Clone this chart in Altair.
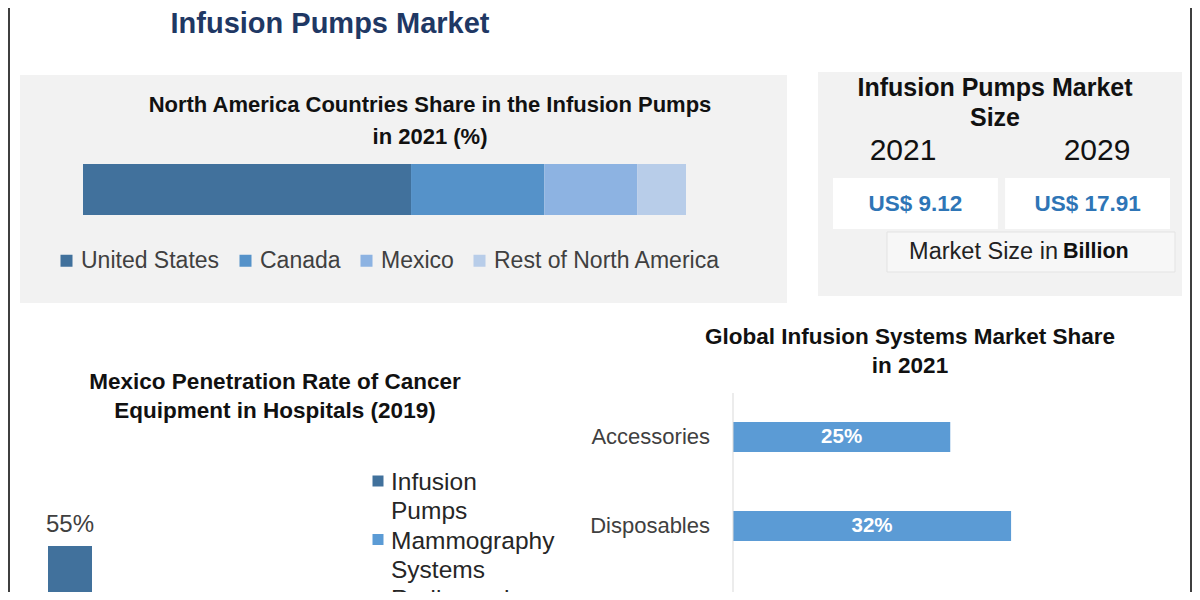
import altair as alt
import pandas as pd

W, H = 1184, 584
FONT = "Liberation Sans, Arial, sans-serif"

# ---------------- data ----------------
na_countries = ["United States", "Canada", "Mexico", "Rest of North America"]
na_share = [54.4, 22.1, 15.4, 8.1]
na_colors = ["#41719c", "#5592c9", "#8db3e2", "#b8cde9"]

size_years = ["2021", "2029"]
size_values = [9.12, 17.91]

pen_categories = ["Infusion Pumps", "Mammography Systems", "Radiography"]
pen_legend_labels = ["Infusion\nPumps", "Mammography\nSystems", "Radiography"]
pen_values = [55]  # only the first bar is visible in the picture
pen_colors = ["#41719c", "#5b9bd5", "#9dc3e6"]

seg_categories = ["Accessories", "Disposables", "Devices"]
seg_share = [25, 32, 43]
seg_color = "#5b9bd5"


# ---------------- helpers ----------------
def label(text, x, y, size, weight="normal", color="#111111",
          align="center", baseline="middle"):
    return alt.Chart(pd.DataFrame({"t": [text]})).mark_text(
        font=FONT, fontSize=size, fontWeight=weight, color=color,
        align=align, baseline=baseline
    ).encode(x=alt.value(x), y=alt.value(y), text="t:N")


def box(x, x2, y, y2, fill, stroke=None):
    kw = dict(fill=fill)
    if stroke:
        kw.update(stroke=stroke, strokeWidth=1)
    else:
        kw.update(strokeWidth=0)
    return alt.Chart(pd.DataFrame({"a": [0]})).mark_rect(**kw).encode(
        x=alt.value(x), x2=alt.value(x2), y=alt.value(y), y2=alt.value(y2))


def vline(x, y, y2, color, width):
    return alt.Chart(pd.DataFrame({"a": [0]})).mark_rule(
        color=color, strokeWidth=width).encode(
        x=alt.value(x), y=alt.value(y), y2=alt.value(y2))


layers = []

# frame and panels
layers.append(vline(1, 0, H, "#3f3f3f", 2))
layers.append(vline(1183, 0, H, "#3f3f3f", 2))
layers.append(box(12, 779, 67, 295, "#f2f2f2"))
layers.append(box(810, 1174, 64, 288, "#f2f2f2"))
layers.append(box(879, 1167, 224, 264, "#f7f7f7", "#e3e3e3"))

# main title
layers.append(label("Infusion Pumps Market", 322, 16, 29, weight="bold", color="#1f3864"))

# ---------------- panel 1: stacked bar ----------------
layers.append(label("North America Countries Share in the Infusion Pumps", 422, 97, 22, weight="bold"))
layers.append(label("in 2021 (%)", 422, 129, 22, weight="bold"))

na_df = pd.DataFrame({"country": na_countries, "share": na_share,
                      "ord": list(range(len(na_countries))),
                      "row": ["North America"] * len(na_countries)})
na_bar = alt.Chart(na_df).mark_bar().encode(
    x=alt.X("share:Q", stack="zero",
            scale=alt.Scale(domain=[0, 100], range=[75, 678], nice=False), axis=None),
    y=alt.Y("row:N", scale=alt.Scale(range=[156, 207], paddingInner=0, paddingOuter=0), axis=None),
    color=alt.Color("country:N",
                    scale=alt.Scale(domain=na_countries, range=na_colors),
                    legend=alt.Legend(orient="none", legendX=47, legendY=241,
                                      direction="horizontal", columns=4, title=None,
                                      symbolType="square", symbolSize=144,
                                      symbolStrokeWidth=0, labelFont=FONT,
                                      labelFontSize=23, labelColor="#404040",
                                      labelOffset=3, columnPadding=14,
                                      labelLimit=400, padding=0)),
    order=alt.Order("ord:Q"),
)
layers.append(na_bar)

# ---------------- panel 2: market size ----------------
layers.append(label("Infusion Pumps Market", 987, 80, 25, weight="bold"))
layers.append(label("Size", 987, 110, 25, weight="bold"))

size_df = pd.DataFrame({"year": size_years, "value": size_values})
size_df["txt"] = ["US$ " + f"{v:.2f}" for v in size_values]
sx = alt.X("year:N", scale=alt.Scale(domain=size_years, range=[825, 1162],
                                     paddingInner=0.042, paddingOuter=0), axis=None)
size_layer = alt.layer(
    alt.Chart(size_df).mark_bar(color="white").encode(
        x=sx, y=alt.value(170), y2=alt.value(221)),
    alt.Chart(size_df).mark_text(font=FONT, fontSize=22.5, fontWeight="bold",
                                 color="#2e75b6", baseline="middle").encode(
        x=sx, y=alt.value(196), text="txt:N"),
)
layers.append(size_layer)
year_layer = alt.Chart(size_df).mark_text(
    font=FONT, fontSize=30, color="#111111", baseline="middle").encode(
    x=alt.X("year:N", scale=alt.Scale(domain=size_years, range=[895, 1089], padding=0), axis=None),
    y=alt.value(143), text="year:N")
layers.append(year_layer)
layers.append(label("Market Size in", 1050, 244, 23.5, color="#222222", align="right"))
layers.append(label("Billion", 1055, 244, 21.5, weight="bold", color="#111111", align="left"))

# ---------------- panel 3: Mexico penetration ----------------
layers.append(label("Mexico Penetration Rate of Cancer", 267, 374, 22.5, weight="bold"))
layers.append(label("Equipment in Hospitals (2019)", 267, 403, 22.5, weight="bold"))

pen_df = pd.DataFrame({"cat": pen_categories[:len(pen_values)], "value": pen_values})
px = alt.X("cat:N", scale=alt.Scale(domain=pen_categories, range=[40, 172],
                                    paddingInner=0, paddingOuter=0), axis=None)
py = alt.Y("value:Q", scale=alt.Scale(domain=[0, 55], range=[760, 538], nice=False), axis=None)
pen_layer = alt.layer(
    alt.Chart(pen_df).mark_bar(clip=True).encode(
        x=px, y=py,
        color=alt.Color("cat:N", scale=alt.Scale(domain=pen_categories, range=pen_colors),
                        legend=None)),
    alt.Chart(pen_df).transform_calculate(lbl="datum.value + '%'").mark_text(
        font=FONT, fontSize=24, color="#404040", baseline="alphabetic", dy=-14).encode(
        x=px, y=py, text="lbl:N"),
)
layers.append(pen_layer)

leg_df = pd.DataFrame({"cat": pen_categories, "lbl": pen_legend_labels})
ly = alt.Y("cat:N", scale=alt.Scale(domain=pen_categories, range=[473, 590], padding=0), axis=None)
pen_legend = alt.layer(
    alt.Chart(leg_df).mark_square(size=121, opacity=1, clip=True).encode(
        x=alt.value(370), y=ly,
        color=alt.Color("cat:N", scale=alt.Scale(domain=pen_categories, range=pen_colors),
                        legend=None)),
    alt.Chart(leg_df).mark_text(font=FONT, fontSize=24.5, color="#262626", align="left",
                                baseline="alphabetic", dy=9, lineBreak="\n",
                                lineHeight=29, clip=True).encode(
        x=alt.value(383), y=ly, text="lbl:N"),
)
layers.append(pen_legend)

# ---------------- panel 4: global infusion systems share ----------------
layers.append(label("Global Infusion Systems Market Share", 902, 329, 22.5, weight="bold"))
layers.append(label("in 2021", 902, 358, 22.5, weight="bold"))

seg_df = pd.DataFrame({"seg": seg_categories, "share": seg_share})
gx_scale = alt.Scale(domain=[0, 50], range=[725, 1159.5], nice=False)
gy = alt.Y("seg:N", scale=alt.Scale(domain=seg_categories, range=[384.5, 651.5],
                                    paddingInner=0.663, paddingOuter=0.3315), axis=None)
seg_layer = alt.layer(
    alt.Chart(seg_df).mark_bar(color=seg_color, clip=True).encode(
        x=alt.X("share:Q", scale=gx_scale, axis=None), y=gy),
    alt.Chart(seg_df).transform_calculate(
        mid="datum.share / 2", lbl="datum.share + '%'").mark_text(
        font=FONT, fontSize=20.5, fontWeight="bold", color="white",
        baseline="middle", clip=True).encode(
        x=alt.X("mid:Q", scale=gx_scale, axis=None), y=gy, text="lbl:N"),
    alt.Chart(seg_df).mark_text(font=FONT, fontSize=22, color="#404040",
                                align="right", baseline="middle", clip=True).encode(
        x=alt.value(702), y=gy, text="seg:N"),
    alt.Chart(pd.DataFrame({"a": [0]})).mark_rule(color="#d9d9d9", strokeWidth=1, clip=True).encode(
        x=alt.datum(0, scale=gx_scale), y=alt.value(385), y2=alt.value(H)),
)
layers.append(seg_layer)

chart = alt.layer(*layers).resolve_scale(
    x="independent", y="independent", color="independent"
).properties(
    width=W, height=H, padding=0, autosize=alt.AutoSizeParams(type="none"),
    background="white"
).configure_view(stroke=None)

chart.save("out.html", embed_options={"renderer": "svg", "actions": False})
